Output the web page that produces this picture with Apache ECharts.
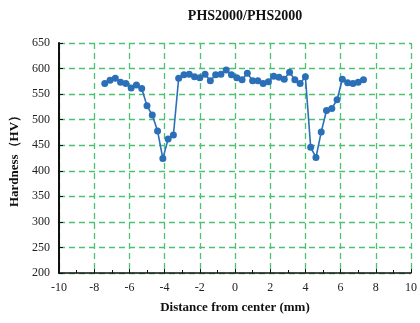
<!DOCTYPE html>
<html>
<head>
<meta charset="utf-8">
<script src="https://cdn.jsdelivr.net/npm/echarts@6/dist/echarts.min.js"></script>
<style>html,body{margin:0;padding:0;background:#fff}#main{width:420px;height:323px}</style>
</head>
<body>
<div id="main"></div>
<script>
var chart = echarts.init(document.getElementById('main'));

// distance from center (mm)
var distance = [-7.4, -7.1, -6.8, -6.5, -6.2, -5.9, -5.6, -5.3, -5.0, -4.7,
  -4.4, -4.1, -3.8, -3.5, -3.2, -2.9, -2.6, -2.3, -2.0, -1.7,
  -1.4, -1.1, -0.8, -0.5, -0.2, 0.1, 0.4, 0.7, 1.0, 1.3,
  1.6, 1.9, 2.2, 2.5, 2.8, 3.1, 3.4, 3.7, 4.0, 4.3,
  4.6, 4.9, 5.2, 5.5, 5.8, 6.1, 6.4, 6.7, 7.0, 7.3];
// hardness (HV)
var hardness = [571, 577, 581, 573, 571, 562, 568, 561, 527, 509,
  478, 424, 462, 470, 581, 588, 589, 584, 582, 589,
  576, 588, 589, 597, 588, 582, 578, 591, 576, 576,
  571, 574, 585, 583, 579, 593, 578, 571, 584, 446,
  426, 476, 518, 522, 539, 579, 572, 571, 573, 578];

var xTicks = [-10, 10, 2];
var yTicks = [200, 650, 50];

var pts = [];
for (var i = 0; i < distance.length; i++) {
  pts.push([distance[i], hardness[i]]);
}

var serif = '"Liberation Serif", "Times New Roman", serif';
var gridColor = '#4cc272';

option = {
  animation: false,
  backgroundColor: '#fff',
  title: {
    text: 'PHS2000/PHS2000',
    left: 240,
    textAlign: 'center',
    top: 4,
    textStyle: { fontFamily: serif, fontWeight: 'bold', fontSize: 14, color: '#111' }
  },
  grid: { left: 57, right: 7, top: 43, bottom: 50 },
  xAxis: {
    type: 'value',
    min: xTicks[0], max: xTicks[1], interval: xTicks[2],
    name: 'Distance from center (mm)',
    nameLocation: 'middle',
    nameGap: 28,
    nameTextStyle: { fontFamily: serif, fontWeight: 'bold', fontSize: 13, color: '#111' },
    axisLine: { onZero: false, lineStyle: { color: '#111', width: 1.5 } },
    axisTick: { inside: true, length: 4, lineStyle: { color: '#111' } },
    minorTick: { show: true, splitNumber: 2, length: 3, lineStyle: { color: '#111' } },
    axisLabel: { fontFamily: serif, fontSize: 12, color: '#222', margin: 9 },
    splitLine: { show: true, lineStyle: { color: gridColor, type: [6, 4], width: 1.3 } }
  },
  yAxis: {
    type: 'value',
    min: yTicks[0], max: yTicks[1], interval: yTicks[2],
    name: 'Hardness（HV）',
    nameLocation: 'middle',
    nameGap: 38,
    nameTextStyle: { fontFamily: serif, fontWeight: 'bold', fontSize: 13, color: '#111' },
    axisLine: { show: true, onZero: false, lineStyle: { color: '#111', width: 2 } },
    axisTick: { show: true, inside: true, length: 4, lineStyle: { color: '#111' } },
    axisLabel: { fontFamily: serif, fontSize: 12, color: '#222', margin: 9 },
    splitLine: { show: true, lineStyle: { color: gridColor, type: [6, 4], width: 1.3 } }
  },
  series: [{
    type: 'line',
    data: pts,
    symbol: 'circle',
    symbolSize: 7,
    itemStyle: { color: '#2a6fb8' },
    lineStyle: { color: '#2a6fb8', width: 1.6 }
  }]
};

chart.setOption(option);
</script>
</body>
</html>
